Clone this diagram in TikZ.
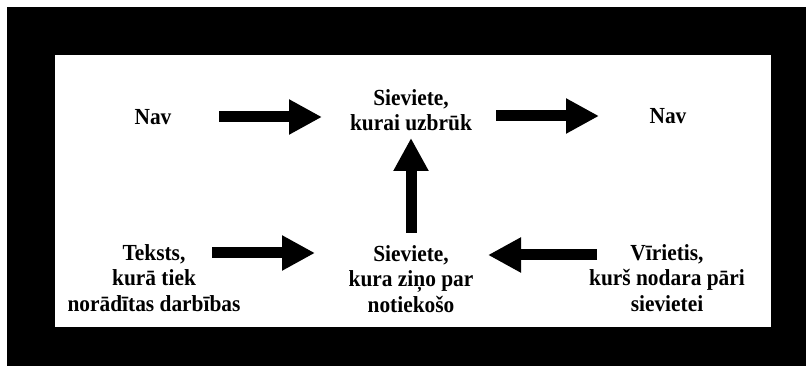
\documentclass[tikz,border=0pt]{standalone}
\usepackage{fontspec}
\setmainfont{Liberation Serif}
\newfontfamily\lblfont[FakeStretch=0.93]{Liberation Serif}
\usetikzlibrary{arrows.meta}
\tikzset{
  lbl/.style={font=\lblfont\bfseries\fontsize{23}{25.5}\selectfont, align=center, inner sep=0pt},
  blockarrow/.style={line width=11pt, -{Triangle[length=33pt,width=33pt]}}
}
\begin{document}
\begin{tikzpicture}[x=1pt,y=-1pt]
\useasboundingbox (0,0) rectangle (806,366);
\fill[white] (0,0) rectangle (806,366);
\fill[black] (7,7) rectangle (806,366);
\fill[white] (55,55) rectangle (771,327);
\node[lbl] (nav1) at (153,117) {Nav};
\node[lbl] (top) at (411,110) {Sieviete,\\kurai uzbrūk};
\node[lbl] (nav2) at (668,116) {Nav};
\node[lbl] (bl) at (154,278) {Teksts,\\kurā tiek\\norādītas darbības};
\node[lbl] (bc) at (411,279) {Sieviete,\\kura ziņo par\\notiekošo};
\node[lbl] (br) at (667,278) {Vīrietis,\\kurš nodara pāri\\sievietei};
\draw[blockarrow, shorten <=66pt, shorten >=89pt] (nav1.center) -- (nav1.center -| top.center);
\draw[blockarrow, shorten <=85pt, shorten >=69pt] (top.center |- nav2.center) -- (nav2.center);
\draw[blockarrow, shorten <=46pt, shorten >=28pt] (bc.center) -- (top.center);
\draw[blockarrow, shorten <=58pt, shorten >=96pt] ([yshift=25pt]bl.center) -- ([yshift=25pt]bl.center -| bc.center);
\draw[blockarrow, shorten <=70pt, shorten >=77pt] ([yshift=23pt]br.center) -- ([yshift=23pt]br.center -| bc.center);
\end{tikzpicture}
\end{document}
